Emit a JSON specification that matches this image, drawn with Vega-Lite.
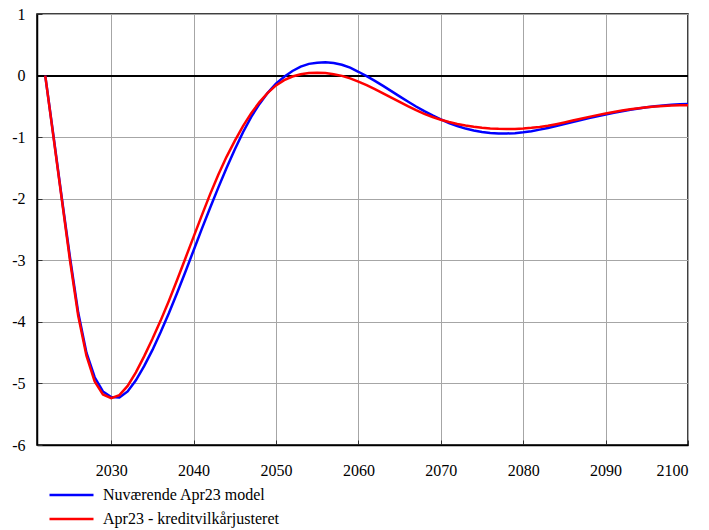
{
  "$schema": "https://vega.github.io/schema/vega-lite/v6.json",
  "width": 651,
  "height": 431,
  "autosize": {"type": "none"},
  "padding": {"left": 37, "top": 14, "right": 21, "bottom": 85},
  "background": "white",
  "config": {
    "view": {"stroke": "black", "strokeWidth": 1.5},
    "font": "Liberation Serif",
    "axis": {
      "labelFont": "Liberation Serif",
      "labelFontSize": 16,
      "labelColor": "black",
      "domainColor": "black",
      "domainWidth": 1.5,
      "ticks": true,
      "tickSize": -5,
      "tickColor": "#333333",
      "gridColor": "#a6a6a6",
      "gridWidth": 1,
      "title": null
    }
  },
  "data": {
    "values": [
      {"year": 2022, "n": 0, "k": 0},
      {"year": 2023, "n": -0.98, "k": -1.0},
      {"year": 2024, "n": -1.98, "k": -2.0},
      {"year": 2025, "n": -2.95, "k": -3.0},
      {"year": 2026, "n": -3.85, "k": -3.9},
      {"year": 2027, "n": -4.5, "k": -4.55},
      {"year": 2028, "n": -4.9, "k": -4.97},
      {"year": 2029, "n": -5.13, "k": -5.18},
      {"year": 2030, "n": -5.22, "k": -5.24},
      {"year": 2031, "n": -5.23, "k": -5.19},
      {"year": 2032, "n": -5.13, "k": -5.04},
      {"year": 2033, "n": -4.95, "k": -4.82},
      {"year": 2034, "n": -4.72, "k": -4.56},
      {"year": 2035, "n": -4.46, "k": -4.28},
      {"year": 2036, "n": -4.17, "k": -3.98},
      {"year": 2037, "n": -3.86, "k": -3.66},
      {"year": 2038, "n": -3.53, "k": -3.32},
      {"year": 2039, "n": -3.19, "k": -2.97},
      {"year": 2040, "n": -2.84, "k": -2.62},
      {"year": 2041, "n": -2.49, "k": -2.27},
      {"year": 2042, "n": -2.15, "k": -1.93},
      {"year": 2043, "n": -1.82, "k": -1.61},
      {"year": 2044, "n": -1.5, "k": -1.32},
      {"year": 2045, "n": -1.2, "k": -1.06},
      {"year": 2046, "n": -0.92, "k": -0.82},
      {"year": 2047, "n": -0.67, "k": -0.61},
      {"year": 2048, "n": -0.46, "k": -0.43},
      {"year": 2049, "n": -0.28, "k": -0.28},
      {"year": 2050, "n": -0.13, "k": -0.16},
      {"year": 2051, "n": -0.02, "k": -0.075},
      {"year": 2052, "n": 0.075, "k": -0.015},
      {"year": 2053, "n": 0.145, "k": 0.022},
      {"year": 2054, "n": 0.19, "k": 0.04},
      {"year": 2055, "n": 0.21, "k": 0.047},
      {"year": 2056, "n": 0.215, "k": 0.04},
      {"year": 2057, "n": 0.203, "k": 0.022},
      {"year": 2058, "n": 0.176, "k": -0.005},
      {"year": 2059, "n": 0.128, "k": -0.045},
      {"year": 2060, "n": 0.062, "k": -0.098},
      {"year": 2061, "n": -0.01, "k": -0.156},
      {"year": 2062, "n": -0.087, "k": -0.22},
      {"year": 2063, "n": -0.168, "k": -0.288},
      {"year": 2064, "n": -0.252, "k": -0.358},
      {"year": 2065, "n": -0.337, "k": -0.428},
      {"year": 2066, "n": -0.421, "k": -0.497},
      {"year": 2067, "n": -0.502, "k": -0.562},
      {"year": 2068, "n": -0.578, "k": -0.621},
      {"year": 2069, "n": -0.648, "k": -0.673},
      {"year": 2070, "n": -0.712, "k": -0.717},
      {"year": 2071, "n": -0.77, "k": -0.754},
      {"year": 2072, "n": -0.82, "k": -0.785},
      {"year": 2073, "n": -0.861, "k": -0.81},
      {"year": 2074, "n": -0.893, "k": -0.83},
      {"year": 2075, "n": -0.916, "k": -0.846},
      {"year": 2076, "n": -0.931, "k": -0.858},
      {"year": 2077, "n": -0.939, "k": -0.865},
      {"year": 2078, "n": -0.941, "k": -0.868},
      {"year": 2079, "n": -0.935, "k": -0.866},
      {"year": 2080, "n": -0.922, "k": -0.86},
      {"year": 2081, "n": -0.903, "k": -0.849},
      {"year": 2082, "n": -0.878, "k": -0.834},
      {"year": 2083, "n": -0.85, "k": -0.814},
      {"year": 2084, "n": -0.819, "k": -0.789},
      {"year": 2085, "n": -0.787, "k": -0.761},
      {"year": 2086, "n": -0.755, "k": -0.731},
      {"year": 2087, "n": -0.722, "k": -0.701},
      {"year": 2088, "n": -0.69, "k": -0.671},
      {"year": 2089, "n": -0.66, "k": -0.642},
      {"year": 2090, "n": -0.632, "k": -0.615},
      {"year": 2091, "n": -0.604, "k": -0.59},
      {"year": 2092, "n": -0.578, "k": -0.568},
      {"year": 2093, "n": -0.555, "k": -0.548},
      {"year": 2094, "n": -0.534, "k": -0.531},
      {"year": 2095, "n": -0.516, "k": -0.516},
      {"year": 2096, "n": -0.5, "k": -0.504},
      {"year": 2097, "n": -0.486, "k": -0.494},
      {"year": 2098, "n": -0.475, "k": -0.487},
      {"year": 2099, "n": -0.466, "k": -0.482},
      {"year": 2100, "n": -0.461, "k": -0.48}
    ]
  },
  "layer": [
    {
      "mark": {"type": "rule", "color": "black", "strokeWidth": 1.2},
      "encoding": {"y": {"datum": 0, "type": "quantitative", "scale": {"domain": [-6, 1], "nice": false}}}
    },
    {
      "transform": [{"fold": ["n", "k"], "as": ["series", "value"]}],
      "mark": {"type": "line", "strokeWidth": 2.5, "clip": true},
      "encoding": {
        "x": {
          "field": "year", "type": "quantitative",
          "scale": {"domain": [2021, 2100], "nice": false, "zero": false},
          "axis": {"values": [2030, 2040, 2050, 2060, 2070, 2080, 2090, 2100], "format": "d", "labelPadding": 22, "grid": true, "labelFont": "Liberation Serif"}
        },
        "y": {
          "field": "value", "type": "quantitative",
          "scale": {"domain": [-6, 1], "nice": false},
          "axis": {"values": [-6, -5, -4, -3, -2, -1, 0, 1], "labelExpr": "'' + datum.value", "labelPadding": 17, "grid": true, "labelFont": "Liberation Serif"}
        },
        "color": {
          "field": "series", "type": "nominal",
          "scale": {"domain": ["n", "k"], "range": ["#0000ff", "#ff0000"]},
          "legend": {
            "title": null,
            "orient": "none",
            "legendX": 11,
            "legendY": 472,
            "direction": "vertical",
            "symbolType": "stroke",
            "symbolSize": 1936,
            "symbolStrokeWidth": 2.5,
            "clipHeight": 18,
            "labelFont": "Liberation Serif",
            "labelFontSize": 16,
            "labelColor": "black",
            "labelOffset": 8,
            "labelLimit": 400,
            "rowPadding": 6,
            "labelExpr": "datum.label == 'n' ? 'Nuværende Apr23 model' : 'Apr23 - kreditvilkårjusteret'"
          }
        }
      }
    }
  ]
}
